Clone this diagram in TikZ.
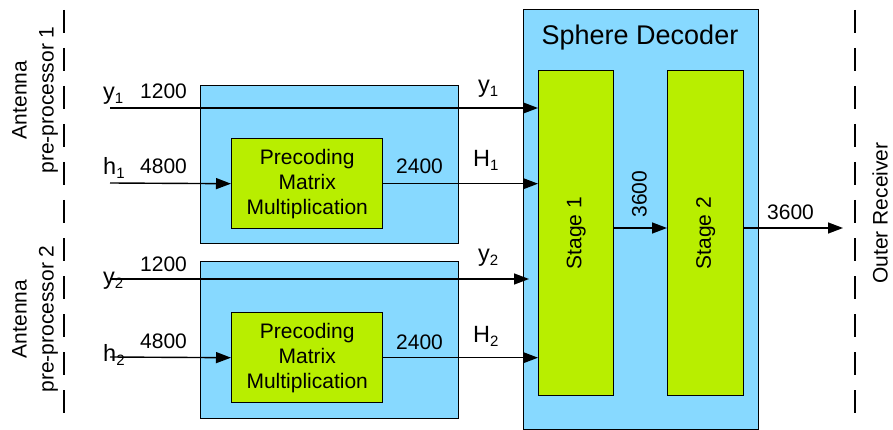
\documentclass[tikz,border=0pt]{standalone}
\usepackage{fontspec}
\setmainfont{Liberation Sans}
\usetikzlibrary{arrows.meta}
\definecolor{blu}{RGB}{135,217,255}
\definecolor{grn}{RGB}{184,238,0}
\newcommand{\sbs}[1]{\raisebox{-4pt}{\fontsize{15}{15}\selectfont #1}}
\begin{document}
\begin{tikzpicture}[x=1pt,y=-1pt,
  outer/.style={draw=black, fill=blu, line width=1.4pt, inner sep=0pt},
  inner/.style={draw=black, fill=grn, line width=1.4pt, inner sep=0pt, align=center, font=\fontsize{21}{25}\selectfont},
  conn/.style={line width=1.4pt, -{Triangle[length=15pt,width=11pt]}},
  lbl/.style={inner sep=0pt, font=\fontsize{21}{25}\selectfont, anchor=base west},
  vlbl/.style={inner sep=0pt, font=\fontsize{23.5}{25}\selectfont, anchor=base west},
  rlbl/.style={inner sep=0pt, font=\fontsize{21}{27}\selectfont, rotate=90, align=center},
  sepline/.style={line width=2.8pt, dash pattern=on 23pt off 15pt}]
\useasboundingbox (0,0) rectangle (893,430);

% separators
\coordinate (l1) at (64,10);
\coordinate (l2) at (64,418);
\coordinate (r1) at (855,10);
\coordinate (r2) at (855,418);
\draw[sepline] (l1) -- (l2);
\draw[sepline] (r1) -- (r2);

% side labels
\node[rlbl] (ant1) at (35,100) {Antenna\\pre-processor 1};
\node[rlbl] (ant2) at (35,319) {Antenna\\pre-processor 2};
\node[rlbl] (outer) at (880,213) {Outer Receiver};

% boxes
\node[outer, minimum width=258pt, minimum height=158pt, anchor=north west] (pp1) at (200,85) {};
\node[outer, minimum width=258pt, minimum height=157pt, anchor=north west] (pp2) at (200,261) {};
\node[inner, minimum width=151pt, minimum height=90pt, anchor=north west] (pm1) at (231,138) {Precoding\\Matrix\\Multiplication};
\node[inner, minimum width=151pt, minimum height=90pt, anchor=north west] (pm2) at (231,312) {Precoding\\Matrix\\Multiplication};
\node[outer, minimum width=235pt, minimum height=420pt, anchor=north west] (sd) at (523,9) {};
\node[inner, minimum width=75pt, minimum height=325pt, anchor=north west] (st1) at (538,70) {};
\node[inner, minimum width=76pt, minimum height=325pt, anchor=north west] (st2) at (667,70) {};
\node[rlbl] (st1t) at (st1.center) {Stage 1};
\node[rlbl] (st2t) at (st2.center) {Stage 2};
\node[inner sep=0pt, font=\fontsize{27}{30}\selectfont, anchor=base] (sdt) at (640,45) {Sphere Decoder};

% inputs
\coordinate (y1in) at (110,108);
\coordinate (h1in) at (110,183);
\coordinate (y2in) at (110,279);
\coordinate (y2end) at (529,279);
\coordinate (h2in) at (110,357);
\coordinate (mid) at (640,228);
\coordinate (outend) at (843,228);

\draw[conn] (y1in) -- (y1in -| st1.west);
\draw[conn] (h1in) -- (pm1.west);
\draw[conn] (pm1.east) -- (pm1.east -| st1.west);
\draw[conn] (y2in) -- (y2end);
\draw[conn] (h2in) -- (pm2.west);
\draw[conn] (pm2.east) -- (pm2.east -| st1.west);
\draw[conn] (mid -| st1.east) -- (mid -| st2.west);
\draw[conn] (mid -| st2.east) -- (outend);

% labels
\node[vlbl] (ly1) at (103,100) {y\sbs{1}};
\node[lbl] (n1) at (140,99) {1200};
\node[vlbl] (lh1) at (103,175) {h\sbs{1}};
\node[lbl] (n2) at (140,174) {4800};
\node[vlbl] (ly2) at (103,284) {y\sbs{2}};
\node[lbl] (n3) at (140,271) {1200};
\node[vlbl] (lh2) at (103,361) {h\sbs{2}};
\node[lbl] (n4) at (140,348) {4800};

\node[vlbl] (ry1) at (478,93) {y\sbs{1}};
\node[vlbl] (rH1) at (473,167) {H\sbs{1}};
\node[lbl] (n5) at (396,174) {2400};
\node[vlbl] (ry2) at (478,261) {y\sbs{2}};
\node[vlbl] (rH2) at (473,342) {H\sbs{2}};
\node[lbl] (n6) at (396,349) {2400};

\node[rlbl] (n7) at (639.5,194) {3600};
\node[lbl] (n8) at (767,220) {3600};
\end{tikzpicture}
\end{document}
